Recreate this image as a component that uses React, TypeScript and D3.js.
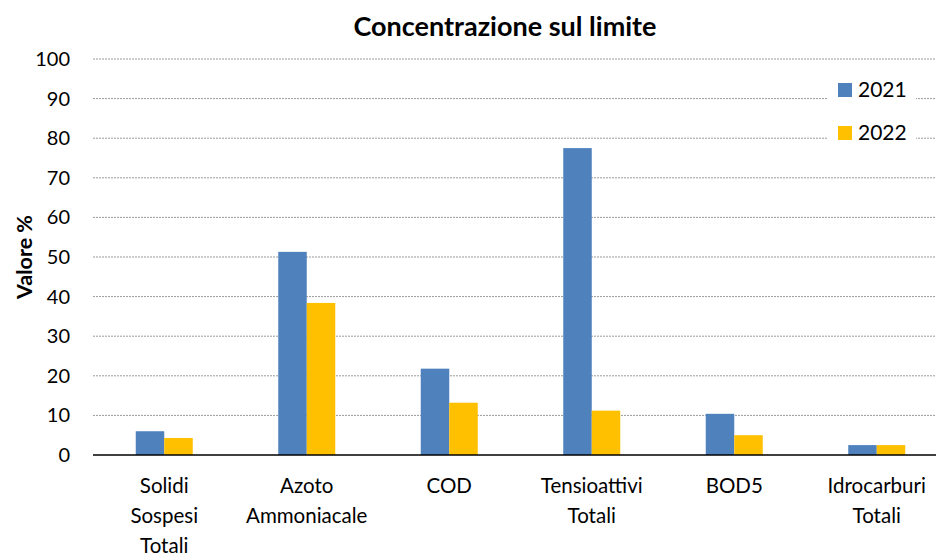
import { useEffect, useRef } from 'react';
import * as d3 from 'd3';

// categories (x axis), wrapped into lines as in the original
const categories = ['Solidi Sospesi Totali', 'Azoto Ammoniacale', 'COD', 'Tensioattivi Totali', 'BOD5', 'Idrocarburi Totali'];
const categoryLines = [['Solidi', 'Sospesi', 'Totali'], ['Azoto', 'Ammoniacale'], ['COD'], ['Tensioattivi', 'Totali'], ['BOD5'], ['Idrocarburi', 'Totali']];

const seriesNames = ['2021', '2022'];
const values2021 = [6.0, 51.3, 21.8, 77.5, 10.4, 2.5];
const values2022 = [4.3, 38.4, 13.2, 11.2, 5.0, 2.5];
const yTicks = [0, 10, 20, 30, 40, 50, 60, 70, 80, 90, 100];

const colors = ['#4F81BD', '#FFC000'];
const FONT = 'Lato, "Open Sans", sans-serif';

const App = () => {
  const chartRef = useRef<SVGSVGElement>(null);

  useEffect(() => {
    if (!chartRef.current) return;
    const svg = d3.select(chartRef.current);
    svg.selectAll('*').remove();

    const width = 936;
    const height = 557;
    // plot area runs slightly past the right edge, as in the original
    const margin = { top: 59, right: -12, bottom: 102, left: 93 };
    const innerW = width - margin.left - margin.right;
    const innerH = height - margin.top - margin.bottom;

    const g = svg.append('g').attr('transform', `translate(${margin.left},${margin.top})`);

    const x = d3.scaleBand().domain(categories).range([0, innerW]).paddingInner(0).paddingOuter(0);
    const x1 = d3.scaleBand().domain(seriesNames).range([0, x.bandwidth()]).paddingInner(0).paddingOuter(1.5);
    const y = d3.scaleLinear().domain([0, 100]).range([innerH, 0]);

    // gridlines
    g.append('g')
      .selectAll('line')
      .data(yTicks.filter(d => d > 0))
      .join('line')
      .attr('x1', 0)
      .attr('x2', innerW)
      .attr('y1', d => y(d))
      .attr('y2', d => y(d))
      .attr('stroke', '#9a9a9a')
      .attr('stroke-width', 1)
      .attr('stroke-dasharray', '2,1');

    // y tick labels
    g.append('g')
      .selectAll('text')
      .data(yTicks)
      .join('text')
      .attr('x', -23)
      .attr('y', d => y(d))
      .attr('dy', '0.35em')
      .attr('text-anchor', 'end')
      .style('font-family', FONT)
      .style('font-size', '20px')
      .style('fill', '#000')
      .text(d => d);

    // bars
    const series = [values2021, values2022];
    categories.forEach((cat, i) => {
      seriesNames.forEach((s, j) => {
        const v = series[j][i];
        g.append('rect')
          .attr('x', (x(cat) ?? 0) + (x1(s) ?? 0))
          .attr('y', y(v))
          .attr('width', x1.bandwidth())
          .attr('height', innerH - y(v))
          .attr('fill', colors[j]);
      });
    });

    // baseline
    g.append('line')
      .attr('x1', 0)
      .attr('x2', innerW)
      .attr('y1', innerH)
      .attr('y2', innerH)
      .attr('stroke', '#000')
      .attr('stroke-width', 1.5);

    // x labels
    categories.forEach((cat, i) => {
      const cx = (x(cat) ?? 0) + x.bandwidth() / 2;
      const t = g.append('text')
        .attr('x', cx)
        .attr('y', innerH + 38)
        .attr('text-anchor', 'middle')
        .style('font-family', FONT)
        .style('font-size', '20.5px')
        .style('fill', '#000');
      categoryLines[i].forEach((line, k) => {
        t.append('tspan')
          .attr('x', cx)
          .attr('dy', k === 0 ? 0 : 30)
          .text(line);
      });
    });

    // title
    svg.append('text')
      .attr('x', 505)
      .attr('y', 36)
      .attr('text-anchor', 'middle')
      .style('font-family', FONT)
      .style('font-size', '27px')
      .style('font-weight', 'bold')
      .text('Concentrazione sul limite');

    // y axis label
    svg.append('text')
      .attr('transform', `translate(32,${margin.top + innerH / 2}) rotate(-90)`)
      .attr('text-anchor', 'middle')
      .style('font-family', FONT)
      .style('font-size', '21.5px')
      .style('font-weight', 'bold')
      .text('Valore %');

    // legend
    const legend = svg.append('g').attr('transform', 'translate(828,76)');
    legend.append('rect').attr('width', 88).attr('height', 74).attr('fill', '#fff');
    seriesNames.forEach((s, j) => {
      const row = legend.append('g').attr('transform', `translate(10,${7 + j * 43})`);
      row.append('rect').attr('width', 14).attr('height', 14).attr('fill', colors[j]);
      row.append('text')
        .attr('x', 20)
        .attr('y', 7)
        .attr('dy', '0.35em')
        .style('font-family', FONT)
        .style('font-size', '21px')
        .text(s);
    });
  }, []);

  return (
    <svg ref={chartRef} width={936} height={557} style={{ position: 'absolute', left: 0, top: 0, background: '#fff' }} />
  );
};

export default App;
